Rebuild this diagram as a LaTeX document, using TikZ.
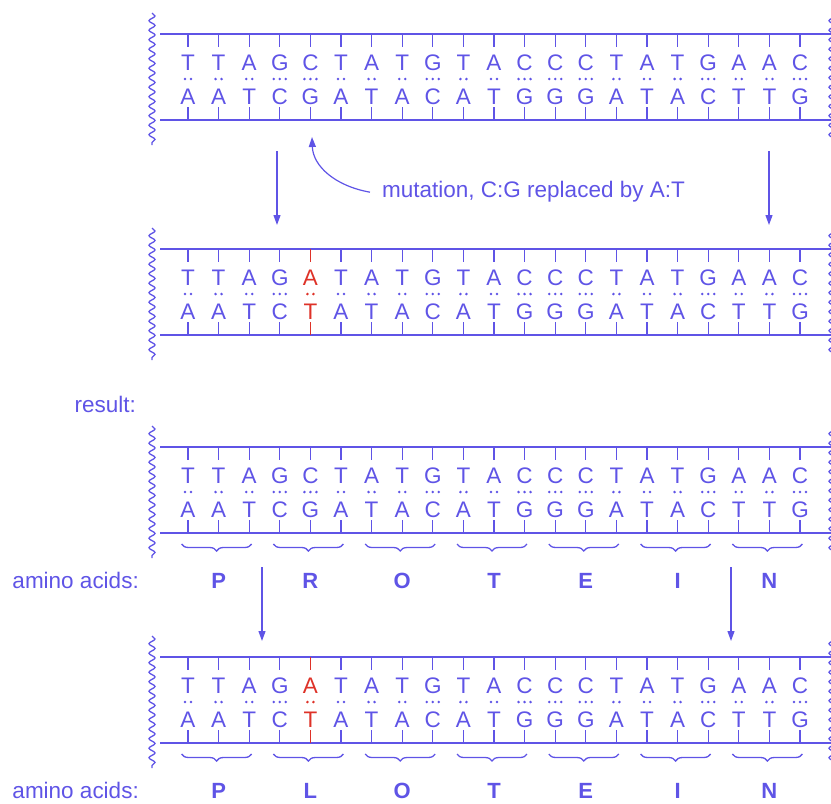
\documentclass[tikz,border=0pt]{standalone}
\usepackage{fontspec}
\setmainfont{Liberation Sans}
\usetikzlibrary{arrows.meta,decorations.pathmorphing,decorations.pathreplacing}
\definecolor{dna}{RGB}{95,84,230}
\definecolor{mutred}{RGB}{222,50,40}

\tikzset{
  base/.style={font=\fontsize{22.5}{22.5}\selectfont,text height=16.1pt,text depth=0pt,inner sep=0pt},
  label/.style={font=\fontsize{22.5}{22.5}\selectfont,text=dna,inner sep=0pt},
  amino/.style={font=\fontsize{22}{22}\selectfont\bfseries,text=dna,inner sep=0pt,anchor=base},
  backbone/.style={dna,line width=1.5pt},
  tick/.style={line width=1.3pt},
  wavy/.style={dna,line width=1.3pt,decorate,decoration={snake,segment length=9.5pt,amplitude=3pt}},
  codon/.style={dna,line width=1.3pt,decorate,decoration={brace,mirror,amplitude=7pt}},
  arr/.style={dna,line width=1.2pt,-{Triangle[length=10pt,width=7pt]}}
}

% one double strand, #1 = y of upper backbone, #2 = pairs, #3 = red column, #4 = name
\newcommand{\dnablock}[4]{%
  \draw[backbone] (160,#1) -- (835,#1) (160,#1+86) -- (835,#1+86);
  \draw[wavy] (152,#1-21) -- (152,#1+111);
  \draw[wavy] (832,#1-21) -- (832,#1+111);
  \foreach \t/\b/\n [count=\i from 0] in {#2} {
    \ifnum\i=#3 \def\cc{mutred}\else\def\cc{dna}\fi
    \pgfmathsetmacro\xx{188+\i*30.6}
    \node[base,text=\cc] (#4t\i) at (\xx,#1+28) {\t};
    \node[base,text=\cc] (#4b\i) at (\xx,#1+62) {\b};
    \draw[tick,\cc] (\xx,#1) -- (\xx,#1+13);
    \draw[tick,\cc] (\xx,#1+73) -- (\xx,#1+86);
    \ifnum\n=2
      \fill[\cc] (\xx-3,#1+45) circle (1.4pt) (\xx+3,#1+45) circle (1.4pt);
    \else
      \fill[\cc] (\xx-6,#1+45) circle (1.4pt) (\xx,#1+45) circle (1.4pt) (\xx+6,#1+45) circle (1.4pt);
    \fi
  }
}

% braces and protein letters under a strand
\newcommand{\protein}[3]{%
  \node[label,anchor=base east] (#3lab) at (139,#1+141) {amino acids:};
  \foreach \p [count=\k from 0] in {#2} {
    \pgfmathsetmacro\xc{188+(3*\k+1)*30.6}
    \draw[codon] (\xc-37,#1+97) -- (\xc+33,#1+97);
    \node[amino] (#3p\k) at (\xc,#1+141) {\p};
  }
}

\begin{document}
\begin{tikzpicture}[x=1pt,y=-1pt]
\clip (0,0) rectangle (831,804);

\dnablock{34}{T/A/2,T/A/2,A/T/2,G/C/3,C/G/3,T/A/2,A/T/2,T/A/2,G/C/3,T/A/2,A/T/2,C/G/3,C/G/3,C/G/3,T/A/2,A/T/2,T/A/2,G/C/3,A/T/2,A/T/2,C/G/3}{-1}{a}
\dnablock{249}{T/A/2,T/A/2,A/T/2,G/C/3,A/T/2,T/A/2,A/T/2,T/A/2,G/C/3,T/A/2,A/T/2,C/G/3,C/G/3,C/G/3,T/A/2,A/T/2,T/A/2,G/C/3,A/T/2,A/T/2,C/G/3}{4}{b}
\dnablock{447}{T/A/2,T/A/2,A/T/2,G/C/3,C/G/3,T/A/2,A/T/2,T/A/2,G/C/3,T/A/2,A/T/2,C/G/3,C/G/3,C/G/3,T/A/2,A/T/2,T/A/2,G/C/3,A/T/2,A/T/2,C/G/3}{-1}{c}
\dnablock{657}{T/A/2,T/A/2,A/T/2,G/C/3,A/T/2,T/A/2,A/T/2,T/A/2,G/C/3,T/A/2,A/T/2,C/G/3,C/G/3,C/G/3,T/A/2,A/T/2,T/A/2,G/C/3,A/T/2,A/T/2,C/G/3}{4}{d}

\protein{447}{P,R,O,T,E,I,N}{c}
\protein{657}{P,L,O,T,E,I,N}{d}

\node[label,anchor=base west] (mut) at (382,197) {mutation, C:G replaced by A:T};
\node[label,anchor=base east] (res) at (136,412) {result:};

% arrows
\coordinate (mutTip) at (312,137);
\draw[arr] ([xshift=-12pt,yshift=-1pt]mut.west) .. controls (335,186) and (313,166) .. (mutTip);
\coordinate (s1) at (277,151);  \coordinate (e1) at (277,225);
\coordinate (s2) at (769,151);  \coordinate (e2) at (769,225);
\coordinate (s3) at (262,567);  \coordinate (e3) at (262,641);
\coordinate (s4) at (731,567);  \coordinate (e4) at (731,641);
\draw[arr] (s1) -- (e1);
\draw[arr] (s2) -- (e2);
\draw[arr] (s3) -- (e3);
\draw[arr] (s4) -- (e4);
\end{tikzpicture}
\end{document}
